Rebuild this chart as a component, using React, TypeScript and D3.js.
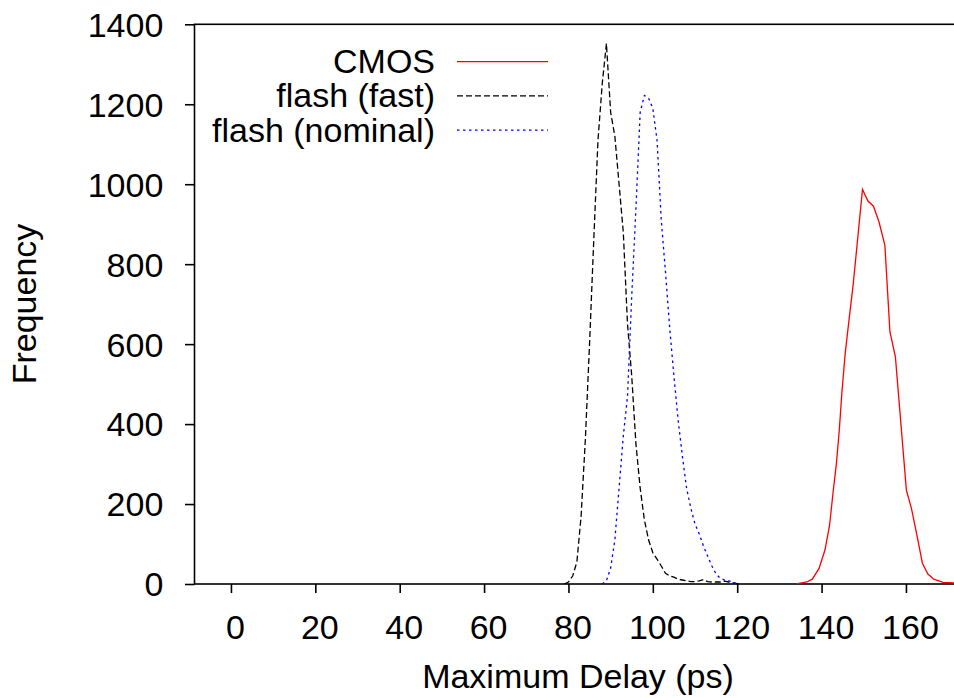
import React, { useEffect, useRef } from 'react';
import * as d3 from 'd3';

// flash (fast), 1 ps bins
const fastDelay = [79, 80, 81, 82, 83, 84, 85, 86, 87, 88, 89, 90, 91, 92, 93, 94, 95, 96, 97, 98, 99, 100,
  101, 102, 103, 104, 105, 106, 107, 108, 109, 110, 111, 112, 113, 114, 115, 116, 117, 118, 119, 120, 121];
const fastFreq = [0, 5, 20, 55, 170, 360, 600, 860, 1110, 1250, 1352, 1180, 1120, 1000, 880, 650, 520, 350, 240, 160, 110, 78,
  62, 45, 27, 20, 17, 12, 10, 8, 6, 6, 8, 11, 6, 5, 5, 5, 7, 5, 3, 1, 0];

// flash (nominal)
const nominalDelay = [88, 89, 90, 91, 92, 93, 94, 95, 96, 97, 98, 99, 100, 101, 102, 103, 104, 105, 106, 107, 108,
  109, 110, 111, 112, 113, 114, 115, 116, 117, 118, 119, 120];
const nominalFreq = [0, 8, 40, 110, 240, 370, 470, 720, 940, 1180, 1222, 1215, 1190, 1110, 910, 780, 640, 520, 410, 320, 240,
  190, 150, 125, 95, 70, 45, 25, 14, 10, 8, 5, 0];

// CMOS
const cmosDelay = [134.0, 136.5, 137.8, 139.4, 140.8, 141.9, 142.7, 143.5, 144.2, 144.8, 145.6, 146.5, 147.5, 149.7,
  151.0, 152.3, 153.6, 155.0, 156.2, 157.5, 160.1, 161.3, 162.5, 163.9, 165.2, 166.6, 168.8, 171.3, 174];
const cmosFreq = [0, 5, 12, 39, 85, 147, 227, 300, 385, 477, 577, 660, 750, 987,
  958, 945, 906, 848, 631, 568, 235, 189, 127, 52, 25, 12, 4, 3, 3];

const xTicks = [0, 20, 40, 60, 80, 100, 120, 140, 160];
const yTicks = [0, 200, 400, 600, 800, 1000, 1200, 1400];
const seriesNames = ['CMOS', 'flash (fast)', 'flash (nominal)'];

const FONT = '"Liberation Sans", Arial, Helvetica, sans-serif';
const FONT_SIZE = '34px';

const App = () => {
  const chartRef = useRef<SVGSVGElement>(null);

  useEffect(() => {
    const svg = d3.select(chartRef.current);
    svg.selectAll('*').remove();

    const width = 954;
    const left = 194.5;
    const top = 24.3;
    const bottom = 584;
    const pxPerPs = 675 / 160;
    const right = left + 233.28 * pxPerPs;

    const x = d3.scaleLinear().domain([-8.64, 224.64]).range([left, right]);
    const y = d3.scaleLinear().domain([0, 1400]).range([bottom, top]);

    svg.append('defs').append('clipPath').attr('id', 'plot-clip')
      .append('rect').attr('x', left).attr('y', top).attr('width', width - left).attr('height', bottom - top);

    // y axis
    const yAxis = svg.append('g')
      .attr('transform', `translate(${left},0)`)
      .call(d3.axisLeft(y).tickValues(yTicks).tickFormat(d3.format('d')).tickSize(9.5).tickSizeOuter(0));
    yAxis.select('.domain').remove();
    yAxis.selectAll('line').attr('stroke', '#000').attr('stroke-width', 1.6);
    yAxis.selectAll('text')
      .attr('x', -31.2).attr('dy', 11.9)
      .style('font-family', FONT).style('font-size', FONT_SIZE).attr('fill', '#000');

    // x axis
    const xAxis = svg.append('g')
      .attr('transform', `translate(0,${bottom})`)
      .call(d3.axisBottom(x).tickValues(xTicks).tickFormat(d3.format('d')).tickSize(9).tickSizeOuter(0));
    xAxis.select('.domain').remove();
    xAxis.selectAll('line').attr('stroke', '#000').attr('stroke-width', 1.6);
    xAxis.selectAll('text')
      .attr('x', 4).attr('y', 55).attr('dy', 0)
      .style('font-family', FONT).style('font-size', FONT_SIZE).attr('fill', '#000');

    // frame
    svg.append('rect')
      .attr('x', left).attr('y', top)
      .attr('width', right - left).attr('height', bottom - top)
      .attr('fill', 'none').attr('stroke', '#000').attr('stroke-width', 1.6);

    // series
    const series = [
      { delay: cmosDelay, freq: cmosFreq, color: '#ff0000', dash: null },
      { delay: fastDelay, freq: fastFreq, color: '#000000', dash: '6,3' },
      { delay: nominalDelay, freq: nominalFreq, color: '#0000ff', dash: '2.5,3.5' },
    ];

    const line = d3.line<[number, number]>()
      .x(d => x(d[0]))
      .y(d => y(d[1]));

    const plot = svg.append('g').attr('clip-path', 'url(#plot-clip)');
    series.forEach(s => {
      const pts = s.delay.map((d, i) => [d, s.freq[i]] as [number, number]);
      plot.append('path')
        .attr('d', line(pts))
        .attr('fill', 'none')
        .attr('stroke', s.color)
        .attr('stroke-width', 1.3)
        .attr('stroke-dasharray', s.dash);
    });

    // legend
    const legend = svg.append('g');
    series.forEach((s, i) => {
      const cy = 61.7 + i * 34.2;
      legend.append('text')
        .attr('x', 435).attr('y', cy + 11.5)
        .attr('text-anchor', 'end')
        .style('font-family', FONT).style('font-size', FONT_SIZE)
        .text(seriesNames[i]);
      legend.append('line')
        .attr('x1', 457).attr('x2', 548)
        .attr('y1', cy).attr('y2', cy)
        .attr('stroke', s.color).attr('stroke-width', 1.3)
        .attr('stroke-dasharray', s.dash);
    });

    // axis titles
    svg.append('text')
      .attr('x', 578).attr('y', 688.3)
      .attr('text-anchor', 'middle')
      .style('font-family', FONT).style('font-size', FONT_SIZE)
      .text('Maximum Delay (ps)');

    svg.append('text')
      .attr('transform', `translate(36,304) rotate(-90)`)
      .attr('text-anchor', 'middle')
      .style('font-family', FONT).style('font-size', FONT_SIZE)
      .text('Frequency');
  }, []);

  return (
    <svg ref={chartRef} width={954} height={698}
      style={{ position: 'absolute', left: 0, top: 0, background: '#fff' }} />
  );
};

export default App;
